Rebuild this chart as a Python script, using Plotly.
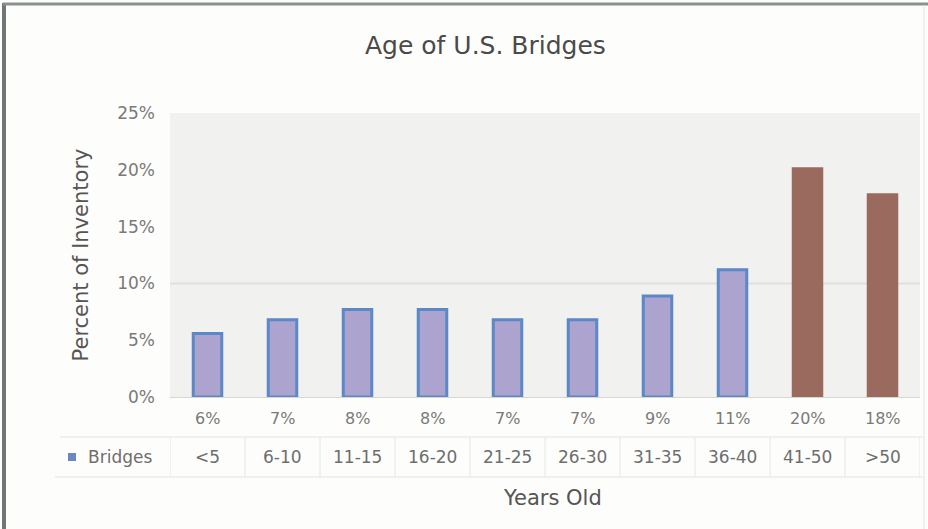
import plotly.graph_objects as go

categories = ["<5", "6-10", "11-15", "16-20", "21-25", "26-30", "31-35", "36-40", "41-50", ">50"]
values = [5.6, 6.8, 7.7, 7.7, 6.8, 6.8, 8.9, 11.2, 20.1, 17.8]
highlight = [False] * 8 + [True] * 2
series_name = "Bridges"
y_ticks = [0, 5, 10, 15, 20, 25]
y_tick_labels = ["0%", "5%", "10%", "15%", "20%", "25%"]

W, H = 928, 529
L, R, T, B = 170, 8, 113, 132
PW = W - L - R
PH = H - T - B

def px(x):
    return (x - L) / PW

def py(y):
    return (H - B - y) / PH

FONT = "DejaVu Sans"
BLUE_FILL = "#ada3cf"
BLUE_LINE = "#5b88c6"
BROWN = "#9a6a5e"

fill_colors = [BROWN if h else BLUE_FILL for h in highlight]
line_colors = [BROWN if h else BLUE_LINE for h in highlight]

fig = go.Figure()
fig.add_trace(go.Bar(
    x=categories, y=values, name=series_name,
    marker=dict(color=fill_colors, line=dict(color=line_colors, width=3)),
    width=0.38, showlegend=False,
))

annotations = []
annotations.append(dict(text="Age of U.S. Bridges", x=px(485), y=py(45), xref="paper", yref="paper",
                        xanchor="center", yanchor="middle",
                        showarrow=False, font=dict(family=FONT, size=25, color="#4a4a4a")))
annotations.append(dict(text="Years Old", x=px(552), y=py(498), xref="paper", yref="paper",
                        xanchor="center", yanchor="middle",
                        showarrow=False, font=dict(family=FONT, size=21, color="#555555")))
for c, v in zip(categories, values):
    annotations.append(dict(text=f"{round(v)}%", x=c, y=py(418), xref="x", yref="paper",
                            xanchor="center", yanchor="middle",
                            showarrow=False, font=dict(family=FONT, size=16, color="#7a7a7a")))
    annotations.append(dict(text=c, x=c, y=py(457), xref="x", yref="paper",
                            xanchor="center", yanchor="middle",
                            showarrow=False, font=dict(family=FONT, size=17, color="#6e6e6e")))
annotations.append(dict(text=series_name, x=px(86), y=py(457), xref="paper", yref="paper",
                        xanchor="left", yanchor="middle",
                        showarrow=False, font=dict(family=FONT, size=17, color="#6e6e6e")))

shapes = []
shapes.append(dict(type="line", xref="paper", yref="paper", x0=px(4), x1=px(4), y0=py(3), y1=py(529),
                   line=dict(color="#6f7777", width=4)))
shapes.append(dict(type="line", xref="paper", yref="paper", x0=px(3), x1=px(928), y0=py(4), y1=py(4),
                   line=dict(color="#88918f", width=3)))
shapes.append(dict(type="line", xref="paper", yref="paper", x0=px(924), x1=px(924), y0=py(5), y1=py(529),
                   line=dict(color="#e3e3e0", width=1)))
shapes.append(dict(type="line", xref="paper", yref="y", x0=0, x1=1, y0=10, y1=10,
                   line=dict(color="#e2e0da", width=2), layer="below"))
shapes.append(dict(type="rect", xref="paper", yref="paper", x0=px(68), x1=px(76), y0=py(461), y1=py(453),
                   fillcolor="#6b86c0", line=dict(width=0)))
shapes.append(dict(type="line", xref="paper", yref="paper", x0=px(60), x1=px(923), y0=py(437), y1=py(437),
                   line=dict(color="#e4e4e0", width=1)))
shapes.append(dict(type="line", xref="paper", yref="paper", x0=px(55), x1=px(923), y0=py(477), y1=py(477),
                   line=dict(color="#e4e4e0", width=1)))
for i in range(len(categories) + 1):
    shapes.append(dict(type="line", xref="x", yref="paper", x0=i - 0.5, x1=i - 0.5, y0=py(437), y1=py(477),
                       line=dict(color="#e6e6e2", width=1)))

fig.update_layout(
    width=W, height=H,
    margin=dict(l=L, r=R, t=T, b=B),
    paper_bgcolor="#fdfdfb",
    plot_bgcolor="#f1f1ef",
    annotations=annotations,
    shapes=shapes,
    xaxis=dict(showticklabels=False, showgrid=False, zeroline=False, showline=False,
               range=[-0.5, len(categories) - 0.5]),
    yaxis=dict(range=[0, 25], tickvals=y_ticks, ticktext=y_tick_labels, showgrid=False,
               zeroline=True, zerolinecolor="#d8d6d0", zerolinewidth=1,
               showline=False, ticks="", ticklabelstandoff=14,
               tickfont=dict(family=FONT, size=17, color="#7a7a7a"),
               title=dict(text="Percent of Inventory", standoff=22,
                          font=dict(family=FONT, size=21, color="#555555"))),
    font=dict(family=FONT),
)

fig.write_html("out.html", config={"displayModeBar": False},
               post_script="document.body.style.margin='0';document.body.style.padding='0';")
